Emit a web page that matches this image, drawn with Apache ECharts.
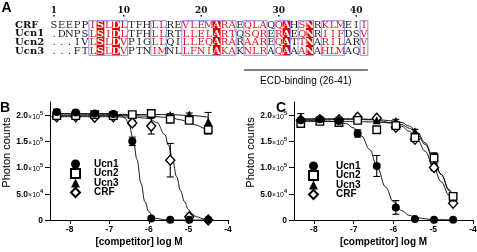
<!DOCTYPE html>
<html>
<head>
<meta charset="utf-8">
<script src="https://cdn.jsdelivr.net/npm/echarts@6/dist/echarts.min.js"></script>
<style>
  html, body { margin: 0; padding: 0; background: #fff; }
  #chart { width: 477px; height: 252px; }
</style>
</head>
<body>
<div id="chart"></div>
<script>
// ---- panel A: sequence alignment ----
const seqNames = ['CRF', 'Ucn1', 'Ucn2', 'Ucn3'];
const sequences = [
  'SEEPPISLDLTFHLLREVLEMARAEQLAQQAHSNRKLMEII',
  '.DNPSLSIDLTFHLLRTLLELARTQSQRERAEQNRIIFDSV',
  '...IVLSLDVPIGLLQILLEQARARAAREQATTNARILARV',
  '...FTLSLDVPTNIMNLLFNIAKAKNLRAQAAANAHLMAQI'
];
const numberedCols = [1, 10, 20, 30, 40];
const identicalCols = [7, 9, 22, 31, 34];
const similarBlocks = [[6, 10], [14, 15], [18, 24], [26, 28], [30, 31], [33, 34], [36, 38], [41, 41]];
const ecdRange = [26, 41];
const ecdLabel = 'ECD-binding (26-41)';

// ---- panels B and C: competition binding ----
const logConc = [-8.33, -7.85, -7.37, -6.9, -6.42, -5.94, -5.46, -4.98, -4.5];
const xTicks = [-8, -7, -6, -5, -4];
const yTicks = [0, 50000, 100000, 150000, 200000];
const yTickMant = ['0', '5.0', '1.0', '1.5', '2.0'];
const yTickExp = ['', '4', '5', '5', '5'];

// panel B points (mean, error)
const ucn1B = [206000, 205000, 203000, 202000, 150000, 3000, 500, 300, 300];
const ucn1BErr = [5000, 4000, 3000, 3000, 8000, 0, 0, 0, 0];
const ucn2B = [199000, 199000, 201000, 199000, 201000, 203000, 192000, 190000, 172000];
const ucn2BErr = [3000, 3000, 4000, 3000, 4000, 5000, 3000, 4000, 8000];
const ucn3B = [204000, 204000, 202000, 203000, 200000, 203000, 200000, 201000, 188000];
const ucn3BErr = [6000, 5000, 4000, 4000, 3000, 5000, 3000, 3000, 17000];
const crfB = [197000, 197000, 196000, 197000, 185000, 179000, 114000, 6000, 0];
const crfBErr = [3000, 3000, 3000, 3000, 5000, 15000, 32000, 0, 0];

// panel C points
const ucn1C = [190000, 192000, 189000, 165000, 103000, 24000, 2000, 300, 300];
const ucn1CErr = [4000, 4000, 4000, 7000, 20000, 13000, 0, 0, 0];
const ucn2C = [184000, 188000, 186000, 190000, 172000, 180000, 157000, 118000, 45000];
const ucn2CErr = [4000, 5000, 4000, 3000, 3000, 3000, 5000, 10000, 4000];
const ucn3C = [196000, 192000, 192000, 191000, 190000, 189000, 169000, 121000, 43000];
const ucn3CErr = [7000, 4000, 4000, 3000, 3000, 3000, 4000, 6000, 3000];
const crfC = [190000, 191000, 191000, 196000, 194000, 177000, 154000, 100000, 32000];
const crfCErr = [3000, 3000, 3000, 3000, 3000, 4000, 4000, 6000, 2000];

// fitted curves
const ucn1BFitX = [-8.33, -7.0, -6.7, -6.6, -6.5, -6.4, -6.3, -6.2, -6.1, -6.0, -5.9, -5.8, -5.6, -5.4, -4.5];
const ucn1BFit = [203000, 203000, 199000, 194000, 181000, 156000, 115000, 70000, 35000, 16000, 6500, 2700, 400, 0, 0];
const crfBFitX = [-8.33, -7.0, -6.4, -6.0, -5.8, -5.6, -5.5, -5.4, -5.3, -5.2, -5.1, -5.0, -4.9, -4.8, -4.6, -4.5];
const crfBFit = [197000, 197000, 196000, 194000, 186000, 163000, 142000, 114000, 83000, 56000, 35000, 20000, 11300, 6200, 1800, 1000];
const ucn2BFitX = [-8.33, -6.5, -6.0, -5.6, -5.4, -5.2, -5.0, -4.8, -4.6, -4.5];
const ucn2BFit = [199000, 199000, 198000, 196000, 194000, 191000, 187000, 181000, 175000, 172000];
const ucn3BFitX = [-8.33, -5.5, -5.0, -4.5];
const ucn3BFit = [202000, 201000, 199500, 196000];

const ucn1CFitX = [-8.33, -7.6, -7.2, -7.0, -6.8, -6.6, -6.4, -6.2, -6.0, -5.8, -5.6, -5.4, -5.0, -4.5];
const ucn1CFit = [191000, 188500, 184000, 175500, 160000, 134500, 99000, 63000, 35000, 18000, 8700, 4000, 800, 100];
const slowFitX = [-8.33, -7.0, -6.5, -6.0, -5.8, -5.6, -5.4, -5.2, -5.0, -4.8, -4.6, -4.5];
const ucn2CFit = [188000, 188000, 187000, 185000, 182000, 175000, 163000, 144000, 117000, 87000, 58000, 46000];
const ucn3CFit = [193000, 193000, 192000, 189000, 186000, 179000, 167000, 147000, 119000, 87000, 56000, 43000];
const crfCFit = [192000, 192000, 191000, 185000, 179000, 169000, 153000, 131000, 102000, 73000, 47000, 37000];

const FONT = 'Liberation Sans, Arial, sans-serif';
const SEQFONT = 'DejaVu Serif, serif';

function inBlock(col) {
  return similarBlocks.some(b => col >= b[0] && col <= b[1]);
}

const chart = echarts.init(document.getElementById('chart'));

// ---- alignment series ----
const letterData = [];
sequences.forEach((s, r) => {
  for (let c = 1; c <= s.length; c++) letterData.push([c, r]);
});

const alignSeries = [
  {
    type: 'custom', xAxisIndex: 0, yAxisIndex: 0, silent: true, z: 1,
    data: identicalCols.map(c => [c, 0]),
    renderItem: function (params, api) {
      const p = api.coord([api.value(0), 0]);
      const s = api.size([1, 1]);
      return {
        type: 'rect',
        shape: { x: p[0] - s[0] / 2, y: p[1] - s[1] / 2, width: s[0], height: s[1] * 4 },
        style: { fill: '#e00000' }
      };
    }
  },
  {
    type: 'custom', xAxisIndex: 0, yAxisIndex: 0, silent: true, z: 2,
    data: letterData,
    renderItem: function (params, api) {
      const col = api.value(0), row = api.value(1);
      const ch = sequences[row][col - 1];
      const p = api.coord([col, row]);
      const ident = identicalCols.indexOf(col) >= 0;
      const sim = inBlock(col);
      return {
        type: 'text', x: p[0], y: p[1] + 0.5,
        style: {
          text: ch,
          fill: ident ? '#ffffff' : (sim ? '#e8101c' : '#1a1a1a'),
          fontFamily: SEQFONT, fontSize: 10,
          fontWeight: ident ? 'bold' : 'normal',
          align: 'center', verticalAlign: 'middle'
        }
      };
    }
  },
  {
    type: 'custom', xAxisIndex: 0, yAxisIndex: 0, silent: true, z: 3,
    data: similarBlocks.map(b => [b[0], 0, b[1]]),
    renderItem: function (params, api) {
      const a = api.coord([api.value(0), 0]);
      const b = api.coord([api.value(2), 3]);
      const s = api.size([1, 1]);
      return {
        type: 'rect',
        shape: { x: a[0] - s[0] / 2, y: a[1] - s[1] / 2, width: b[0] - a[0] + s[0], height: b[1] - a[1] + s[1] },
        style: { fill: null, stroke: '#8c8ce8', lineWidth: 1 }
      };
    }
  },
  {
    type: 'custom', xAxisIndex: 0, yAxisIndex: 0, silent: true, z: 3,
    data: numberedCols.map(c => [c, 0]),
    renderItem: function (params, api) {
      const p = api.coord([api.value(0), 0]);
      const s = api.size([1, 1]);
      const top = p[1] - s[1] / 2;
      return {
        type: 'group',
        children: [
          { type: 'text', x: p[0], y: top - 6,
            style: { text: String(api.value(0)), fill: '#111', fontFamily: SEQFONT, fontSize: 9, fontWeight: 'bold', align: 'center', verticalAlign: 'bottom' } },
          { type: 'rect', shape: { x: p[0] - 0.7, y: top - 5.6, width: 1.5, height: 1.5 }, style: { fill: '#111' } }
        ]
      };
    }
  },
  {
    type: 'custom', xAxisIndex: 0, yAxisIndex: 0, silent: true, z: 3,
    data: [[ecdRange[0], 3, ecdRange[1]]],
    renderItem: function (params, api) {
      const a = api.coord([api.value(0), 3]);
      const b = api.coord([api.value(2), 3]);
      const s = api.size([1, 1]);
      const y = a[1] + s[1] / 2 + 14.7;
      const x0 = a[0] - s[0] / 2, x1 = b[0] + s[0] / 2;
      return {
        type: 'group',
        children: [
          { type: 'line', shape: { x1: x0, y1: y, x2: x1, y2: y }, style: { stroke: '#000', lineWidth: 1 } },
          { type: 'text', x: (x0 + x1) / 2, y: y + 11,
            style: { text: ecdLabel, fill: '#000', fontFamily: FONT, fontSize: 10, align: 'center', verticalAlign: 'middle' } }
        ]
      };
    }
  }
];

// ---- binding panels ----
function errData(vals, errs) {
  const out = [];
  vals.forEach((v, i) => { if (errs[i] > 0) out.push([logConc[i], v - errs[i], v + errs[i]]); });
  return out;
}

function errSeries(axis, vals, errs) {
  return {
    type: 'custom', xAxisIndex: axis, yAxisIndex: axis, silent: true, z: 3,
    data: errData(vals, errs),
    renderItem: function (params, api) {
      const lo = api.coord([api.value(0), api.value(1)]);
      const hi = api.coord([api.value(0), api.value(2)]);
      const hw = 3.5;
      const st = { stroke: '#000', lineWidth: 1.1 };
      return {
        type: 'group',
        children: [
          { type: 'line', shape: { x1: lo[0], y1: lo[1], x2: hi[0], y2: hi[1] }, style: st },
          { type: 'line', shape: { x1: hi[0] - hw, y1: hi[1], x2: hi[0] + hw, y2: hi[1] }, style: st },
          { type: 'line', shape: { x1: lo[0] - hw, y1: lo[1], x2: lo[0] + hw, y2: lo[1] }, style: st }
        ]
      };
    }
  };
}

function fitSeries(axis, xs, ys) {
  return {
    type: 'line', xAxisIndex: axis, yAxisIndex: axis, silent: true, z: 2,
    data: xs.map((x, i) => [x, ys[i]]),
    showSymbol: false, smooth: 0.4, smoothMonotone: 'x',
    lineStyle: { color: '#000', width: 0.9 }
  };
}

const markerStyle = {
  Ucn1: { symbol: 'circle', symbolSize: 8, itemStyle: { color: '#000', opacity: 1 } },
  Ucn2: { symbol: 'rect', symbolSize: 7.5, itemStyle: { color: '#fff', borderColor: '#000', borderWidth: 1.4, opacity: 1 } },
  Ucn3: { symbol: 'triangle', symbolSize: 8, itemStyle: { color: '#000', opacity: 1 } },
  CRF: { symbol: 'diamond', symbolSize: [9, 10], itemStyle: { color: '#fff', borderColor: '#000', borderWidth: 1.4, opacity: 1 } }
};

function pointSeries(axis, name, vals) {
  return Object.assign({
    type: 'scatter', name: name, xAxisIndex: axis, yAxisIndex: axis, silent: true, z: 4,
    data: logConc.map((x, i) => [x, vals[i]])
  }, markerStyle[name]);
}

function panelSeries(axis, d) {
  return [
    fitSeries(axis, d.fits[0][0], d.fits[0][1]),
    fitSeries(axis, d.fits[1][0], d.fits[1][1]),
    fitSeries(axis, d.fits[2][0], d.fits[2][1]),
    fitSeries(axis, d.fits[3][0], d.fits[3][1]),
    errSeries(axis, d.crf, d.crfErr),
    errSeries(axis, d.ucn3, d.ucn3Err),
    errSeries(axis, d.ucn2, d.ucn2Err),
    errSeries(axis, d.ucn1, d.ucn1Err),
    pointSeries(axis, 'CRF', d.crf),
    pointSeries(axis, 'Ucn3', d.ucn3),
    pointSeries(axis, 'Ucn2', d.ucn2),
    pointSeries(axis, 'Ucn1', d.ucn1)
  ];
}

const seriesB = panelSeries(1, {
  ucn1: ucn1B, ucn1Err: ucn1BErr, ucn2: ucn2B, ucn2Err: ucn2BErr,
  ucn3: ucn3B, ucn3Err: ucn3BErr, crf: crfB, crfErr: crfBErr,
  fits: [[ucn1BFitX, ucn1BFit], [crfBFitX, crfBFit], [ucn2BFitX, ucn2BFit], [ucn3BFitX, ucn3BFit]]
});
const seriesC = panelSeries(2, {
  ucn1: ucn1C, ucn1Err: ucn1CErr, ucn2: ucn2C, ucn2Err: ucn2CErr,
  ucn3: ucn3C, ucn3Err: ucn3CErr, crf: crfC, crfErr: crfCErr,
  fits: [[ucn1CFitX, ucn1CFit], [slowFitX, ucn2CFit], [slowFitX, ucn3CFit], [slowFitX, crfCFit]]
});

function logAxis(idx) {
  return {
    gridIndex: idx, type: 'value', min: -8.5, max: -4,
    axisLine: { onZero: false, lineStyle: { color: '#000', width: 1 } },
    axisTick: { customValues: xTicks, length: 4, lineStyle: { color: '#000', width: 1 } },
    axisLabel: { customValues: xTicks, margin: 5, color: '#000', fontSize: 8.5, fontWeight: 'bold', fontFamily: FONT },
    splitLine: { show: false },
    name: '[competitor] log M', nameLocation: 'middle', nameGap: 17,
    nameTextStyle: { color: '#000', fontSize: 10, fontWeight: 'bold', fontFamily: FONT }
  };
}

function countAxis(idx) {
  return {
    gridIndex: idx, type: 'value', min: 0, max: 225000,
    axisLine: { show: true, onZero: false, lineStyle: { color: '#000', width: 1 } },
    axisTick: { show: true, customValues: yTicks, length: 5, lineStyle: { color: '#000', width: 1 } },
    axisLabel: {
      customValues: yTicks, margin: 7, color: '#000',
      formatter: function (v) {
        const i = yTicks.indexOf(v);
        if (i < 0) return '';
        if (!yTickExp[i]) return '{n|' + yTickMant[i] + '}';
        return '{n|' + yTickMant[i] + '}{x|×10}{s|' + yTickExp[i] + '}';
      },
      rich: {
        n: { fontSize: 8.5, fontWeight: 'bold', fontFamily: FONT, color: '#000', lineHeight: 10, verticalAlign: 'bottom' },
        x: { fontSize: 7, fontFamily: FONT, color: '#000', lineHeight: 10, verticalAlign: 'bottom' },
        s: { fontSize: 5.5, fontWeight: 'bold', fontFamily: FONT, color: '#000', lineHeight: 10, verticalAlign: 'top' }
      }
    },
    splitLine: { show: false },
    name: 'Photon counts', nameLocation: 'middle', nameGap: 38,
    nameTextStyle: { color: '#000', fontSize: 11, fontFamily: FONT, padding: [0, 0, 0, 17] }
  };
}

function legendAt(left, top, textGap) {
  return {
    data: ['Ucn1', 'Ucn2', 'Ucn3', 'CRF'], orient: 'vertical', left: left, top: top,
    padding: 0, itemWidth: 9, itemHeight: 9, itemGap: -1, selectedMode: false,
    textStyle: { fontSize: 10, fontWeight: 'bold', fontFamily: FONT, color: '#000', lineHeight: 10, padding: [0, 0, 0, textGap] }
  };
}

const panelTitle = (text, left, top) => ({
  text: text, left: left, top: top, padding: 0,
  textStyle: { fontSize: 14, fontWeight: 'bold', fontFamily: FONT, color: '#000' }
});

chart.setOption({
  animation: false,
  backgroundColor: '#fff',
  title: [panelTitle('A', 1.5, 1), panelTitle('B', 0, 101), panelTitle('C', 276, 101)],
  legend: [legendAt(70, 159, 9), legendAt(308, 161, 13)],
  grid: [
    { left: 50.1, top: 20.7, width: 317.75, height: 34.6, outerBoundsMode: 'none' },
    { left: 50, top: 102, width: 178, height: 118, outerBoundsMode: 'none' },
    { left: 294, top: 102, width: 179, height: 118, outerBoundsMode: 'none' }
  ],
  xAxis: [
    { gridIndex: 0, type: 'value', min: 0.5, max: 41.5, show: false },
    logAxis(1), logAxis(2)
  ],
  yAxis: [
    {
      gridIndex: 0, type: 'category', data: seqNames, inverse: true,
      axisLine: { show: false }, axisTick: { show: false }, splitLine: { show: false },
      axisLabel: { interval: 0, align: 'left', margin: 35, color: '#111', fontFamily: SEQFONT, fontSize: 10, fontWeight: 'bold' }
    },
    countAxis(1), countAxis(2)
  ],
  series: alignSeries.concat(seriesB, seriesC)
});
</script>
</body>
</html>
